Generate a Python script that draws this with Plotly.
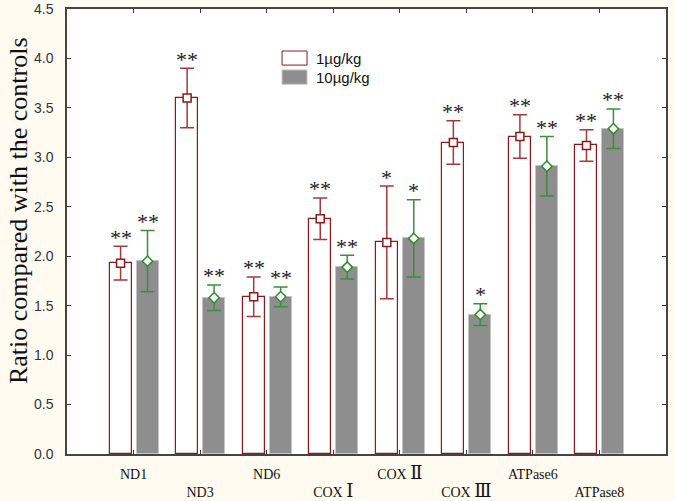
import plotly.graph_objects as go

genes = ["ND1", "ND3", "ND6", "COX Ⅰ", "COX Ⅱ", "COX Ⅲ", "ATPase6", "ATPase8"]
low_dose = [1.93, 3.60, 1.59, 2.38, 2.14, 3.15, 3.21, 3.12]
low_err = [0.17, 0.30, 0.20, 0.21, 0.57, 0.22, 0.22, 0.16]
high_dose = [1.95, 1.58, 1.59, 1.89, 2.18, 1.41, 2.91, 3.29]
high_err = [0.31, 0.13, 0.10, 0.12, 0.39, 0.11, 0.30, 0.20]
low_sig = ["**", "**", "**", "**", "*", "**", "**", "**"]
high_sig = ["**", "**", "**", "**", "*", "*", "**", "**"]
series_names = ["1µg/kg", "10µg/kg"]
y_ticks = [0, 0.5, 1.0, 1.5, 2.0, 2.5, 3.0, 3.5, 4.0, 4.5]

pos = list(range(1, len(genes) + 1))
W = 0.33
OFF_L = -0.36
OFF_H = 0.045
xl = [p + OFF_L + W / 2 for p in pos]
xh = [p + OFF_H + W / 2 for p in pos]

RED = "#8B1A1A"
GREEN = "#2E8B2E"
BG = "#FFFBF0"

fig = go.Figure()
fig.add_trace(go.Bar(x=pos, y=low_dose, width=W, offset=OFF_L, name=series_names[0],
                     marker=dict(color="white", line=dict(color=RED, width=1.2)),
                     showlegend=False))
fig.add_trace(go.Bar(x=pos, y=high_dose, width=W, offset=OFF_H, name=series_names[1],
                     marker=dict(color="#8E8E8E", line=dict(color="#C4C4C4", width=1)),
                     showlegend=False))
fig.add_trace(go.Scatter(x=xl, y=low_dose, mode="markers", showlegend=False,
                         marker=dict(symbol="square", size=8, color="white",
                                     line=dict(color=RED, width=1.5)),
                         error_y=dict(type="data", array=low_err, color="#A33A3A",
                                      thickness=1.5, width=7)))
fig.add_trace(go.Scatter(x=xh, y=high_dose, mode="markers", showlegend=False,
                         marker=dict(symbol="diamond", size=8, color="white",
                                     line=dict(color=GREEN, width=1.5)),
                         error_y=dict(type="data", array=high_err, color="#3C8E3C",
                                      thickness=1.5, width=7)))

ann = []
for x, v, e, s in zip(xl, low_dose, low_err, low_sig):
    ann.append(dict(x=x, y=v + e, xref="x", yref="y", text=s, showarrow=False,
                    yanchor="middle", yshift=9,
                    font=dict(family="Liberation Serif", size=22, color="#222")))
for x, v, e, s in zip(xh, high_dose, high_err, high_sig):
    ann.append(dict(x=x, y=v + e, xref="x", yref="y", text=s, showarrow=False,
                    yanchor="middle", yshift=9,
                    font=dict(family="Liberation Serif", size=22, color="#222")))

# y-axis title
ann.append(dict(x=-0.082, y=0.548, xref="paper", yref="paper",
                text="Ratio compared with the controls", textangle=-90,
                showarrow=False, xanchor="center", yanchor="middle",
                font=dict(family="Liberation Serif", size=26, color="#111")))

# legend (drawn manually)
shapes = [
    dict(type="rect", xref="paper", yref="paper", x0=0.359, x1=0.4007, y0=0.874, y1=0.9056,
         fillcolor="white", line=dict(color=RED, width=1)),
    dict(type="rect", xref="paper", yref="paper", x0=0.359, x1=0.4007, y0=0.831, y1=0.863,
         fillcolor="#8E8E8E", line=dict(color="#C4C4C4", width=1)),
]
fig.add_trace(go.Scatter(x=[0.3798], y=[0.8898], xaxis="x2", yaxis="y2", mode="markers",
                         showlegend=False, hoverinfo="skip",
                         marker=dict(symbol="square", size=6, color="white",
                                     line=dict(color=RED, width=1.5))))
fig.add_trace(go.Scatter(x=[0.3798], y=[0.847], xaxis="x2", yaxis="y2", mode="markers",
                         showlegend=False, hoverinfo="skip",
                         marker=dict(symbol="diamond", size=6, color="white",
                                     line=dict(color=GREEN, width=1.2))))
for name, yy in zip(series_names, [0.8898, 0.847]):
    ann.append(dict(x=0.412, y=yy, xref="paper", yref="paper", text=name, showarrow=False,
                    xanchor="left", yanchor="middle",
                    font=dict(family="Liberation Sans", size=15, color="#111")))


def label(g):
    if "Ⅰ" in g or "Ⅱ" in g or "Ⅲ" in g:
        base, num = g.split(" ")
        return (base + " <span style='font-size:18px;font-family:\"DejaVu Serif\"'>"
                + num + "</span>")
    return g


ticktext = [label(g) if i % 2 == 0 else "<br>" + label(g) for i, g in enumerate(genes)]

fig.update_layout(
    width=675, height=501,
    margin=dict(l=67, r=9, t=9, b=47, autoexpand=False),
    paper_bgcolor=BG, plot_bgcolor="white",
    bargap=0, showlegend=False,
    annotations=ann, shapes=shapes,
    xaxis=dict(range=[0, 9], tickvals=pos, ticktext=ticktext, ticks="inside", ticklen=4,
               tickcolor="#333", showline=True, linecolor="#444", linewidth=1.5,
               mirror="ticks", showgrid=False, zeroline=False, automargin=False,
               tickfont=dict(family="Liberation Serif", size=14, color="#111"),
               ticklabelstandoff=6),
    yaxis=dict(range=[0, 4.5], tickvals=y_ticks, tickformat=".1f", ticks="inside", ticklen=4,
               tickcolor="#333", showline=True, linecolor="#444", linewidth=1.5,
               mirror="ticks", showgrid=False, zeroline=False, automargin=False,
               tickfont=dict(family="Liberation Sans", size=14, color="#333"),
               ticklabelstandoff=9),
    xaxis2=dict(range=[0, 1], overlaying="x", visible=False),
    yaxis2=dict(range=[0, 1], overlaying="y", visible=False),
)

fig.write_html("out.html",
               config={"displayModeBar": False},
               post_script="document.body.style.margin='0';"
                           "document.body.style.background='" + BG + "';")
